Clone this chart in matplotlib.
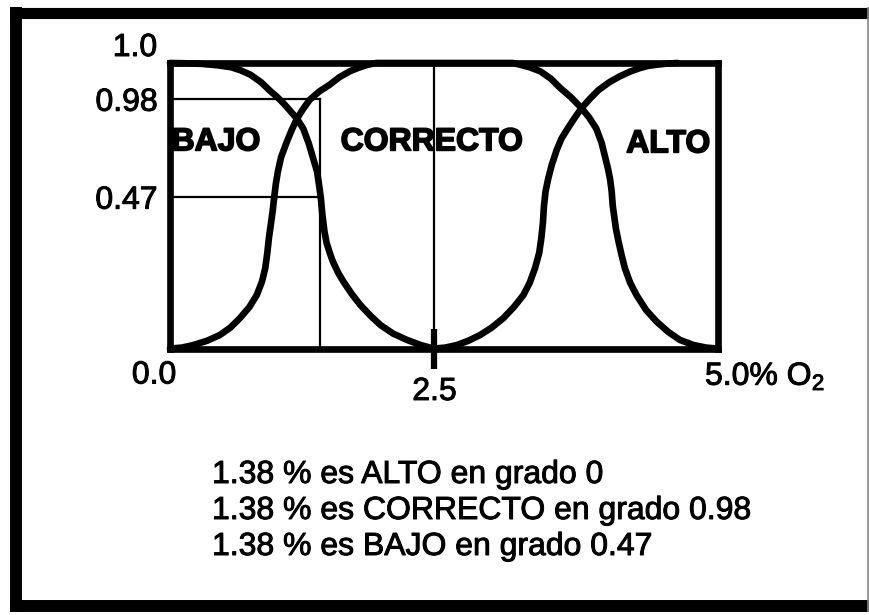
import matplotlib
matplotlib.use("Agg")
import matplotlib.pyplot as plt
import matplotlib.patheffects as pe
from matplotlib.lines import Line2D

plt.rcParams["font.family"] = ["Liberation Sans", "DejaVu Sans"]
plt.rcParams["mathtext.fontset"] = "custom"
plt.rcParams["mathtext.rm"] = "Liberation Sans"

# membership curves (x = % O2, y = degree as drawn)
bajo_x = [0.00, 0.15, 0.30, 0.45, 0.58, 0.67, 0.76, 0.86, 0.95, 1.01, 1.07, 1.13,
          1.20, 1.26, 1.31, 1.35, 1.39, 1.41, 1.425, 1.44, 1.46, 1.48, 1.51, 1.54,
          1.59, 1.64, 1.72, 1.80, 1.90, 1.99, 2.11, 2.24, 2.37, 2.49]
bajo_y = [1.000, 0.999, 0.997, 0.992, 0.985, 0.974, 0.959, 0.933, 0.901, 0.882, 0.860,
          0.835, 0.805, 0.770, 0.720, 0.670, 0.620, 0.570, 0.530, 0.470, 0.410, 0.370,
          0.335, 0.304, 0.265, 0.234, 0.190, 0.152, 0.113, 0.082, 0.052, 0.030, 0.012,
          0.000]

correcto_x = [0.00, 0.11, 0.22, 0.35, 0.47, 0.57, 0.66, 0.75, 0.82, 0.87, 0.90, 0.92,
              0.935, 0.955, 0.97, 0.985, 1.00, 1.02, 1.05, 1.10, 1.15, 1.20, 1.26,
              1.32, 1.41, 1.51, 1.60, 1.70, 1.78, 1.86, 1.95,
              3.24, 3.30, 3.40, 3.50, 3.60, 3.69, 3.79, 3.89, 3.96, 4.03, 4.08, 4.11,
              4.14, 4.16, 4.175, 4.185, 4.20, 4.215, 4.24, 4.27, 4.30, 4.35, 4.41,
              4.50, 4.60, 4.71, 4.82, 4.95, 5.07, 5.17]
correcto_y = [0.000, 0.003, 0.012, 0.027, 0.047, 0.073, 0.106, 0.145, 0.187, 0.235,
              0.281, 0.335, 0.387, 0.440, 0.480, 0.530, 0.575, 0.620, 0.670, 0.720,
              0.765, 0.805, 0.840, 0.871, 0.900, 0.924, 0.950, 0.971, 0.983, 0.993,
              1.000,
              1.000, 0.995, 0.985, 0.971, 0.945, 0.912, 0.880, 0.842, 0.810, 0.770,
              0.720, 0.675, 0.630, 0.593, 0.550, 0.500, 0.460, 0.420, 0.374, 0.325,
              0.281, 0.230, 0.187, 0.135, 0.094, 0.058, 0.030, 0.012, 0.003, 0.000]

alto_x = [2.50, 2.60, 2.71, 2.82, 2.93, 3.04, 3.15, 3.25, 3.34, 3.40, 3.45, 3.49,
          3.51, 3.525, 3.535, 3.55, 3.575, 3.61, 3.655, 3.70, 3.75, 3.82, 3.89,
          3.97, 4.05, 4.15, 4.25, 4.35, 4.44, 4.52, 4.60, 4.70, 4.80]
alto_y = [0.000, 0.003, 0.012, 0.027, 0.047, 0.073, 0.106, 0.145, 0.187, 0.230, 0.281,
          0.335, 0.387, 0.440, 0.500, 0.550, 0.595, 0.645, 0.695, 0.735, 0.765, 0.805,
          0.842, 0.875, 0.905, 0.932, 0.953, 0.970, 0.982, 0.990, 0.994, 0.998, 1.000]

# reading at 1.38 % O2 (drawn positions) and the degree labels
x_mark = 1.42
guide_heights = [0.873, 0.530]
guide_labels = ["0.98", "0.47"]
x_mid = 2.5

set_names = ["BAJO", "CORRECTO", "ALTO"]
set_label_x = [0.015, 2.475, 4.71]
set_label_y = [0.722, 0.722, 0.715]

result_lines = ["1.38 % es ALTO en grado 0",
                "1.38 % es CORRECTO en grado 0.98",
                "1.38 % es BAJO en grado 0.47"]

W, H = 869, 615
FS = 23
heavy = [pe.withStroke(linewidth=0.7, foreground="black")]
heavier = [pe.withStroke(linewidth=1.2, foreground="black")]

fig = plt.figure(figsize=(W / 100, H / 100), dpi=100)
ax = fig.add_axes([170 / W, 1 - 348.5 / H, 548 / W, 285.5 / H])
ax.set_xlim(0, 5.18)
ax.set_ylim(0, 1)

for s in ax.spines.values():
    s.set_linewidth(4.8)

curve_kw = dict(color="black", lw=4.8, clip_on=False, solid_capstyle="round",
                solid_joinstyle="round")
ax.plot(bajo_x, bajo_y, **curve_kw)
ax.plot(correcto_x, correcto_y, **curve_kw)
ax.plot(alto_x, alto_y, **curve_kw)

# guide lines
for h in guide_heights:
    ax.plot([0, x_mark], [h, h], color="black", lw=1.6)
ax.plot([x_mark, x_mark], [0, guide_heights[0]], color="black", lw=1.6)
ax.axvline(x_mid, color="black", lw=1.6)

# ticks
ax.set_yticks(guide_heights, guide_labels)
ax.tick_params(axis="y", length=0, pad=9, labelsize=FS)
ax.set_xticks([x_mid], [str(x_mid)])
ax.tick_params(axis="x", direction="inout", length=29, width=4.5, pad=6, labelsize=FS)
for t in ax.get_xticklabels() + ax.get_yticklabels():
    t.set_path_effects(heavy)

ax.annotate("1.0", xy=(0, 1), xytext=(-13, 15), textcoords="offset pixels",
            ha="right", va="center", fontsize=FS, path_effects=heavy)
ax.annotate("0.0", xy=(0, 0), xytext=(-16, -27), textcoords="offset pixels",
            ha="center", va="center", fontsize=FS, path_effects=heavy)
ax.annotate(r"5.0% O$_\mathregular{2}$", xy=(1, 0), xycoords="axes fraction",
            xytext=(-13, -28), textcoords="offset pixels",
            ha="left", va="center", fontsize=FS, path_effects=heavy)

for name, lx, ly in zip(set_names, set_label_x, set_label_y):
    ha = "left" if name == "BAJO" else "center"
    ax.text(lx, ly, name, ha=ha, va="center", fontsize=FS, fontweight="bold",
            path_effects=heavier)

for i, line in enumerate(result_lines):
    fig.text(212 / W, 1 - (475 + 36 * i) / H, line, ha="left", va="center",
             fontsize=FS, path_effects=heavy)

# outer frame
def frame_line(xs, ys, lw, color="black"):
    fig.add_artist(Line2D([x / W for x in xs], [1 - y / H for y in ys],
                          transform=fig.transFigure, color=color, lw=lw,
                          solid_capstyle="butt"))

frame_line([10, W], [12.5, 12.5], 8)
frame_line([16, 16], [7, 612], 8.6)
frame_line([10, W], [606, 606], 8.6)
frame_line([867.5, 867.5], [7, 612], 1.2, color="#888888")

fig.savefig("out.png", dpi=100)
